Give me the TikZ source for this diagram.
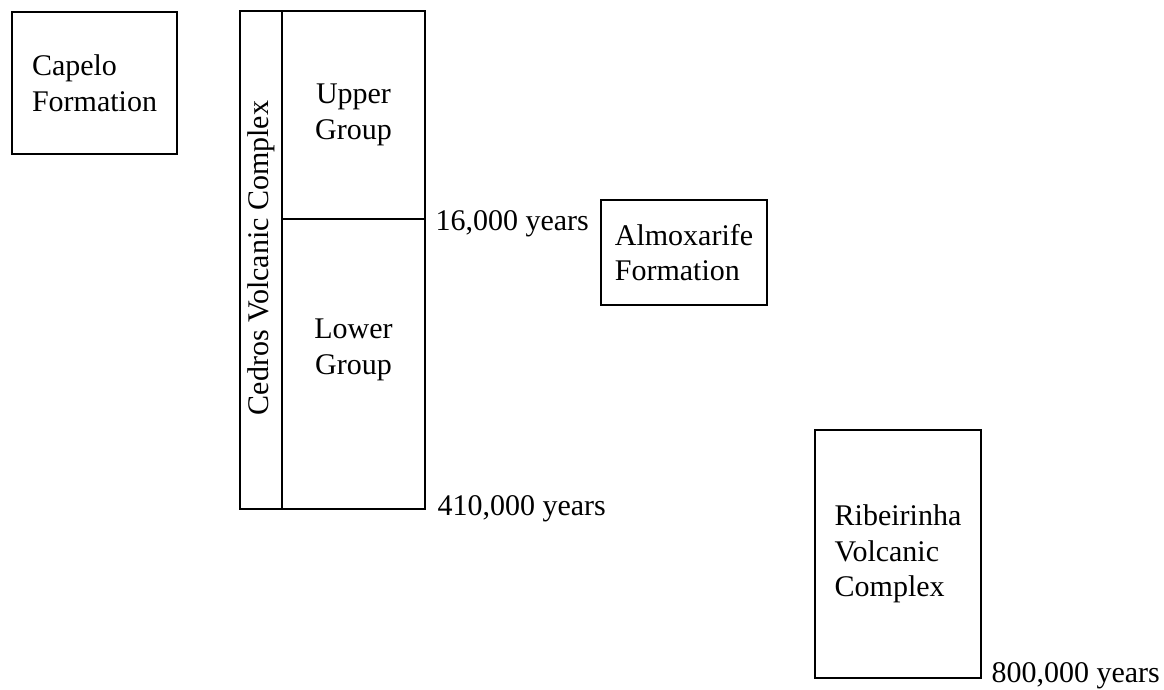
\documentclass[tikz,border=0pt]{standalone}
\usepackage{fontspec}
\setmainfont{Liberation Serif}
\begin{document}
\begin{tikzpicture}[x=1pt,y=-1pt,
		box/.style={draw,line width=1.6pt,inner sep=0pt,outer sep=0pt,align=left},
		every node/.append style={font=\fontsize{30}{35.5}\selectfont}]
		\useasboundingbox (0,0) rectangle (1164,689);

		\node[box,minimum width=165,minimum height=142] (capelo) at (94.5,83) {Capelo\\Formation};

		% Cedros column
		\node[box,minimum width=42,minimum height=498] (strip) at (261,260) {};
		\node[box,minimum width=143,minimum height=208] (upper) at (353.5,115) {};
		\node[box,minimum width=143,minimum height=290] (lower) at (353.5,364) {};
		\node[rotate=90] (cedros) at ([yshift=2pt]strip.center) {Cedros Volcanic Complex};
		\node[align=center] (uppertext) at (upper.center) {Upper\\Group};
		\node[align=center] (lowertext) at ([yshift=14pt]lower.center) {Lower\\Group};

		\node[anchor=base west] (age16) at (432,230) {16,000 years};
		\node[anchor=base west] (age410) at (434,515) {410,000 years};

		\node[box,minimum width=166,minimum height=105] (almox) at (684,252.5) {Almoxarife\\Formation};

		\node[box,minimum width=166,minimum height=248] (ribeir) at (898,554) {Ribeirinha\\Volcanic\\Complex};
		\node[anchor=base west] (age800) at (988,682) {800,000 years};
	\end{tikzpicture}
\end{document}
